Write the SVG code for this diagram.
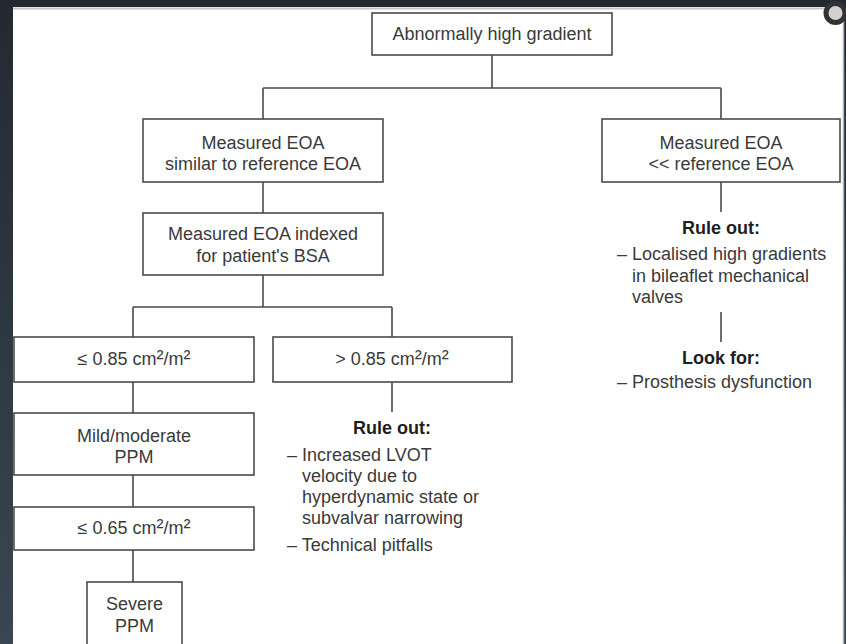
<svg xmlns="http://www.w3.org/2000/svg" width="846" height="644" viewBox="0 0 846 644">
<defs>
<linearGradient id="bg" x1="0" y1="0" x2="0" y2="1">
<stop offset="0" stop-color="#222931"/>
<stop offset="1" stop-color="#3a4651"/>
</linearGradient>
</defs>
<style>
.box{fill:#fff;stroke:#4a4a4a;stroke-width:1.6}
.ln{fill:none;stroke:#4a4a4a;stroke-width:1.6}
.t{font-family:"Liberation Sans",Arial,sans-serif;font-size:18px;fill:#3a3a3a}
.c{text-anchor:middle}
.b{font-weight:bold;fill:#1e1e1e}
.sup{font-size:21px}
</style>
<rect x="0" y="0" width="846" height="644" fill="url(#bg)"/>
<rect x="13" y="7" width="831" height="640" fill="#fff"/>
<line x1="13" y1="8.5" x2="844" y2="8.5" stroke="#c4c4c4" stroke-width="2"/>
<line x1="843.5" y1="7" x2="843.5" y2="644" stroke="#b4b4b4" stroke-width="1.5"/>
<circle cx="835.5" cy="13" r="9.5" fill="#d2d2d2" stroke="#333" stroke-width="5"/>

<g id="connectors">
<path class="ln" d="M492 55V88M263 88H721M263 88V119M721 88V119"/>
<path class="ln" d="M263 182V213M263 275V307M133 307H392M133 307V337M392 307V337"/>
<path class="ln" d="M133 382V413M392 382V412M133 475V507M133 550V582"/>
<path class="ln" d="M721 182V212M721 312V342"/>
</g>

<g id="n-top">
<rect class="box" x="372" y="13" width="240" height="42"/>
<text class="t c" x="492" y="40">Abnormally high gradient</text>
</g>
<g id="n-similar">
<rect class="box" x="143" y="119" width="240" height="63"/>
<text class="t c" x="263" y="149">Measured EOA</text>
<text class="t c" x="263" y="170">similar to reference EOA</text>
</g>
<g id="n-less">
<rect class="box" x="602" y="119" width="238" height="63"/>
<text class="t c" x="721" y="149">Measured EOA</text>
<text class="t c" x="721" y="170">&lt;&lt; reference EOA</text>
</g>
<g id="n-indexed">
<rect class="box" x="143" y="213" width="240" height="62"/>
<text class="t c" x="263" y="240">Measured EOA indexed</text>
<text class="t c" x="263" y="262">for patient's BSA</text>
</g>
<g id="n-le085">
<rect class="box" x="14" y="337" width="240" height="45"/>
<text class="t c" x="134" y="365">≤ 0.85 cm<tspan class="sup">²</tspan>/m<tspan class="sup">²</tspan></text>
</g>
<g id="n-gt085">
<rect class="box" x="273" y="337" width="239" height="45"/>
<text class="t c" x="392" y="365">&gt; 0.85 cm<tspan class="sup">²</tspan>/m<tspan class="sup">²</tspan></text>
</g>
<g id="n-mild">
<rect class="box" x="14" y="413" width="240" height="62"/>
<text class="t c" x="134" y="442">Mild/moderate</text>
<text class="t c" x="134" y="463">PPM</text>
</g>
<g id="n-le065">
<rect class="box" x="14" y="507" width="240" height="43"/>
<text class="t c" x="134" y="534">≤ 0.65 cm<tspan class="sup">²</tspan>/m<tspan class="sup">²</tspan></text>
</g>
<g id="n-severe">
<rect class="box" x="87" y="582" width="95" height="80"/>
<text class="t c" x="134.5" y="610">Severe</text>
<text class="t c" x="134.5" y="632">PPM</text>
</g>
<g id="n-ruleout-mid">
<text class="t c b" x="392" y="434">Rule out:</text>
<text class="t" x="287" y="461">– Increased LVOT</text>
<text class="t" x="302" y="482">velocity due to</text>
<text class="t" x="302" y="503">hyperdynamic state or</text>
<text class="t" x="302" y="524">subvalvar narrowing</text>
<text class="t" x="287" y="551">– Technical pitfalls</text>
</g>
<g id="n-ruleout-right">
<text class="t c b" x="721" y="234">Rule out:</text>
<text class="t" x="617" y="260">– Localised high gradients</text>
<text class="t" x="632" y="282">in bileaflet mechanical</text>
<text class="t" x="632" y="303">valves</text>
</g>
<g id="n-lookfor">
<text class="t c b" x="721" y="364">Look for:</text>
<text class="t" x="617" y="388">– Prosthesis dysfunction</text>
</g>
</svg>
